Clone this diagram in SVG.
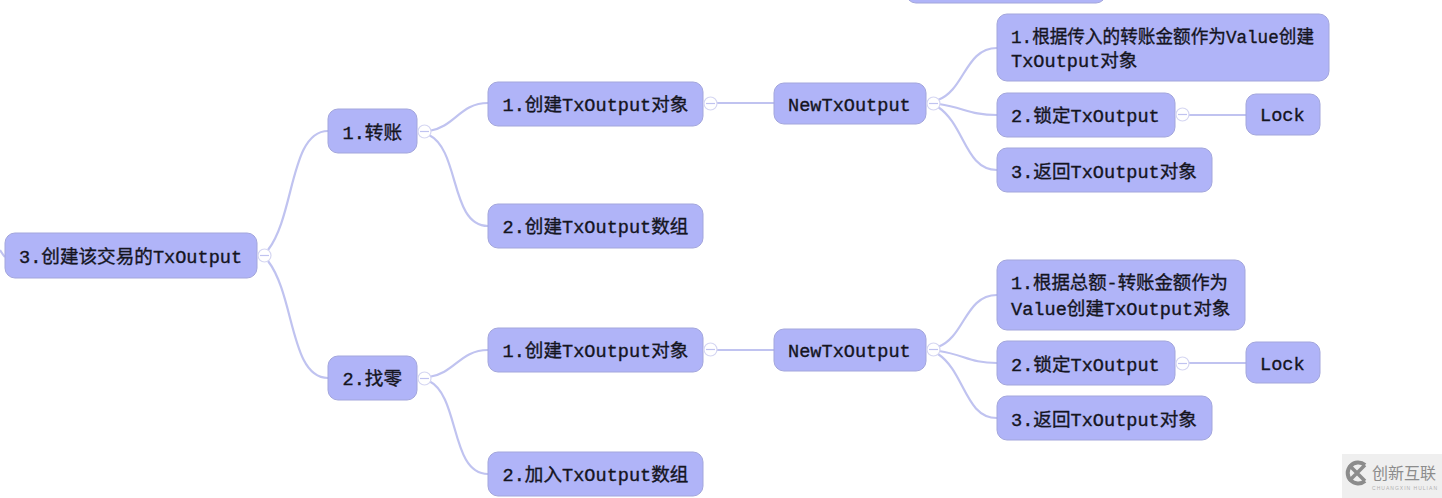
<svg xmlns="http://www.w3.org/2000/svg" width="1442" height="498" viewBox="0 0 1442 498">
<style>
.n{fill:#b0b4f8;stroke:#a3a6dc;stroke-width:1}
.t{font-family:"Liberation Mono","Noto Sans CJK SC",monospace;font-size:18.6px;fill:#15151f;stroke:#15151f;stroke-width:.35}
#connectors path{fill:none;stroke:#c0c3f0;stroke-width:2.2}
.c{fill:#fff;stroke:#d5d6f2;stroke-width:1.2}
.m{fill:none;stroke:#c0c3f0;stroke-width:1.2}
</style>
<rect width="1442" height="498" fill="#fff"/>
<g id="connectors">
<path d="M0 250C2 253 3 255 5 257"/>
<path d="M268 250C295 215 290 131 328 131"/>
<path d="M268 261C295 296 290 378 328 378"/>
<path d="M429 131C455 127 460 103 488 103"/>
<path d="M429 135C460 150 450 226 488 226"/>
<path d="M716 103H774"/>
<path d="M938 100C965 90 965 48 997 48"/>
<path d="M939 104C965 108 970 115 997 115"/>
<path d="M938 107C965 125 965 170 997 170"/>
<path d="M1188 115H1246"/>
<path d="M429 377C455 373 460 350 488 350"/>
<path d="M429 381C460 396 450 474 488 474"/>
<path d="M716 350H774"/>
<path d="M938 347C965 337 965 295 997 295"/>
<path d="M939 351C965 355 970 363 997 363"/>
<path d="M938 354C965 372 965 418 997 418"/>
<path d="M1188 363H1246"/>
</g>
<g id="node-top"><rect class="n" x="906" y="-40" width="200" height="43" rx="10"/></g>
<g id="node-root"><rect class="n" x="5" y="233" width="252" height="45" rx="10"/><text class="t" x="19" y="263">3.创建该交易的TxOutput</text></g>
<g id="node-a"><rect class="n" x="328" y="109" width="89" height="44" rx="10"/><text class="t" x="342.500" y="139">1.转账</text></g>
<g id="node-a1"><rect class="n" x="488" y="82" width="215" height="44" rx="10"/><text class="t" x="502.500" y="111">1.创建TxOutput对象</text></g>
<g id="node-a2"><rect class="n" x="488" y="204" width="215" height="44" rx="10"/><text class="t" x="502.500" y="233">2.创建TxOutput数组</text></g>
<g id="node-a3"><rect class="n" x="774" y="83" width="152" height="41" rx="10"/><text class="t" x="788" y="111">NewTxOutput</text></g>
<g id="node-a4"><rect class="n" x="997" y="14" width="332" height="67" rx="10"/><text class="t" x="1011" y="43" textLength="303" lengthAdjust="spacingAndGlyphs">1.根据传入的转账金额作为Value创建</text><text class="t" x="1011" y="67">TxOutput对象</text></g>
<g id="node-a5"><rect class="n" x="997" y="93" width="178" height="44" rx="10"/><text class="t" x="1011" y="122">2.锁定TxOutput</text></g>
<g id="node-a6"><rect class="n" x="1246" y="94" width="74" height="41" rx="10"/><text class="t" x="1260" y="121">Lock</text></g>
<g id="node-a7"><rect class="n" x="997" y="148" width="215" height="44" rx="10"/><text class="t" x="1011" y="178">3.返回TxOutput对象</text></g>
<g id="node-b"><rect class="n" x="328" y="356" width="89" height="44" rx="10"/><text class="t" x="342.500" y="385">2.找零</text></g>
<g id="node-b1"><rect class="n" x="488" y="328" width="215" height="44" rx="10"/><text class="t" x="502.500" y="357">1.创建TxOutput对象</text></g>
<g id="node-b2"><rect class="n" x="488" y="452" width="215" height="44" rx="10"/><text class="t" x="502.500" y="481">2.加入TxOutput数组</text></g>
<g id="node-b3"><rect class="n" x="774" y="329" width="152" height="42" rx="10"/><text class="t" x="788" y="357">NewTxOutput</text></g>
<g id="node-b4"><rect class="n" x="997" y="260" width="248" height="70" rx="10"/><text class="t" x="1011" y="289" textLength="217" lengthAdjust="spacingAndGlyphs">1.根据总额-转账金额作为</text><text class="t" x="1011" y="315">Value创建TxOutput对象</text></g>
<g id="node-b5"><rect class="n" x="997" y="341" width="178" height="44" rx="10"/><text class="t" x="1011" y="371">2.锁定TxOutput</text></g>
<g id="node-b6"><rect class="n" x="1246" y="342" width="74" height="41" rx="10"/><text class="t" x="1260" y="370">Lock</text></g>
<g id="node-b7"><rect class="n" x="997" y="396" width="215" height="44" rx="10"/><text class="t" x="1011" y="426">3.返回TxOutput对象</text></g>
<g id="toggles">
<g><circle class="c" cx="264.500" cy="255.500" r="6.500"/><path class="m" d="M260 255.500H269"/></g>
<g><circle class="c" cx="424.500" cy="131.500" r="6.500"/><path class="m" d="M420 131.500H429"/></g>
<g><circle class="c" cx="710.500" cy="103.500" r="6.500"/><path class="m" d="M706 103.500H715"/></g>
<g><circle class="c" cx="933.500" cy="103.500" r="6.500"/><path class="m" d="M929 103.500H938"/></g>
<g><circle class="c" cx="1182.500" cy="114.500" r="6.500"/><path class="m" d="M1178 114.500H1187"/></g>
<g><circle class="c" cx="424.500" cy="378.500" r="6.500"/><path class="m" d="M420 378.500H429"/></g>
<g><circle class="c" cx="710.500" cy="349.500" r="6.500"/><path class="m" d="M706 349.500H715"/></g>
<g><circle class="c" cx="933.500" cy="349.500" r="6.500"/><path class="m" d="M929 349.500H938"/></g>
<g><circle class="c" cx="1182.500" cy="363.500" r="6.500"/><path class="m" d="M1178 363.500H1187"/></g>
</g>
<g id="watermark">
<rect x="1342" y="454" width="100" height="44" fill="#efefef"/>
<path d="M1365 465A10.500 10.500 0 1 0 1365 481" fill="none" stroke="#8c8c8c" stroke-width="4"/>
<path d="M1349 465L1365 481M1365 465L1349 481" fill="none" stroke="#8c8c8c" stroke-width="3.500"/>
<text x="1372" y="479" font-family="'Noto Sans CJK SC',sans-serif" font-size="16px" fill="#8c8c8c">创新互联</text>
<text x="1372" y="490" font-family="'Liberation Sans',sans-serif" font-size="5px" fill="#b0b0b0" textLength="65">CHUANGXIN HULIAN</text>
</g>
</svg>
